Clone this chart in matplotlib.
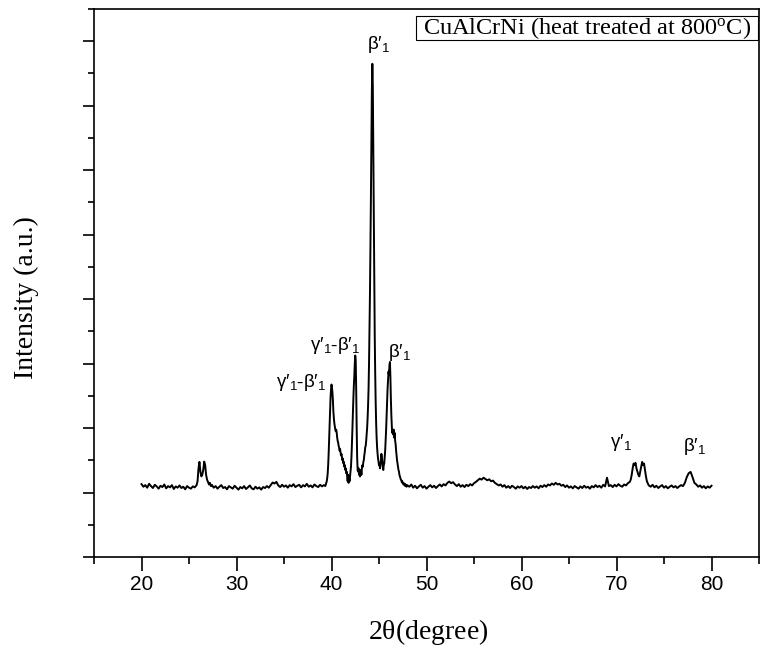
import numpy as np
import matplotlib
matplotlib.use("Agg")
import matplotlib.pyplot as plt
from matplotlib.patches import Rectangle
from matplotlib.ticker import MultipleLocator, NullFormatter

plt.rcParams['mathtext.fontset'] = 'custom'
plt.rcParams['mathtext.rm'] = 'Liberation Serif'

# ---------------- data ----------------
# segment A: 20.0 - 25.8, step 0.2
segA_start, segA_step = 20.0, 0.2
segA_int = [2260, 2180, 2230, 2150, 2270, 2200, 2140, 2240, 2190, 2120,
            2210, 2170, 2250, 2130, 2200, 2160, 2230, 2110, 2190, 2150,
            2220, 2140, 2180, 2100, 2200, 2150, 2120, 2190, 2160, 2230]
# segment B: 25.9 - 27.3, step 0.1 (doublet near 26-27 deg)
segB_start, segB_step = 25.9, 0.1
segB_int = [2350, 2750, 2950, 2650, 2500, 2550, 2700, 2960, 2850, 2550,
            2400, 2330, 2250, 2300, 2200]
# segment C: 27.4 - 39.2, step 0.2
segC_start, segC_step = 27.4, 0.2
segC_int = [2240, 2150, 2200, 2120, 2180, 2230, 2140, 2170, 2100, 2200,
            2160, 2120, 2210, 2150, 2090, 2170, 2130, 2200, 2110, 2160,
            2220, 2130, 2100, 2180, 2120, 2160, 2090, 2170, 2140, 2200,
            2150, 2230, 2310, 2280, 2330, 2220, 2170, 2240, 2180, 2220,
            2150, 2230, 2190, 2260, 2170, 2210, 2240, 2160, 2230, 2190,
            2270, 2180, 2220, 2160, 2250, 2200, 2170, 2240, 2190, 2230]
# segment D: 39.35 - 48.1, step 0.05 (main peak group)
segD_start, segD_step = 39.35, 0.05
segD_int = [2200,
            2250, 2300, 2350, 2450, 2600, 2850, 3200, 3650, 4150, 4600,
            4950, 5200, 5350, 5250, 5100, 4850, 4500, 4300, 4150, 4050,
            3950, 3900, 3950, 3850, 3700, 3600, 3550, 3450, 3400, 3300,
            3350, 3250, 3150, 3200, 3100, 3000, 3050, 2900, 2950, 2800,
            2850, 2700, 2750, 2600, 2650, 2500, 2350, 2550, 2300, 2450,
            2350, 2500, 2650, 2800, 3100, 3500, 4000, 4500, 4900, 5300,
            5600, 6000, 6250, 6100, 5200, 4000, 3100, 2700, 2650, 2750,
            2550, 2650, 2500, 2600, 2700, 2550, 2750, 2850, 2800, 2950,
            3000, 3150, 3250, 3400, 3450, 3600, 3800, 4000, 4300, 4700,
            5200, 6000, 7000, 8200, 9600, 11200, 12900, 14500, 15300, 14600,
            12600, 10300, 8400, 6900, 5700, 4800, 4150, 3700, 3400, 3200,
            3050, 2950, 2850, 2900, 2750, 2850, 3000, 3200, 3100, 2950,
            2800, 2700, 2850, 2900, 3100, 3300, 3600, 3950, 4400, 4850,
            5200, 5500, 5750, 5650, 5950, 6050, 5600, 4900, 4400, 4050,
            3850, 3950, 3800, 3950, 3700, 3850, 3600, 3500, 3300, 3150,
            3000, 2900, 2800, 2700, 2650, 2550, 2500, 2450, 2400, 2380,
            2320, 2350, 2280, 2300, 2250, 2280, 2220, 2260, 2200, 2240,
            2180, 2230]
# segment E: 48.2 - 71.4, step 0.2
segE_start, segE_step = 48.2, 0.2
segE_int = [2180, 2250, 2150, 2210, 2130, 2190, 2240, 2150, 2200, 2120,
            2180, 2230, 2160, 2210, 2140, 2200, 2250, 2190, 2260, 2220,
            2300, 2340, 2290, 2320, 2250, 2200, 2260, 2180, 2230, 2170,
            2240, 2200, 2260, 2220, 2290, 2330, 2380, 2430, 2400, 2460,
            2420, 2380, 2410, 2350, 2370, 2300, 2260, 2220, 2250, 2180,
            2230, 2150, 2200, 2140, 2210, 2170, 2120, 2190, 2150, 2200,
            2130, 2180, 2110, 2170, 2140, 2200, 2150, 2190, 2130, 2210,
            2170, 2230, 2180, 2250, 2220, 2280, 2240, 2300, 2250, 2270,
            2210, 2240, 2170, 2220, 2150, 2190, 2130, 2200, 2160, 2120,
            2190, 2140, 2210, 2150, 2180, 2120, 2200, 2160, 2230, 2170,
            2210, 2150, 2240, 2190, 2460, 2200, 2230, 2170, 2240, 2190,
            2260, 2210, 2180, 2250, 2220, 2290, 2330]
# segment F: 71.5 - 73.4, step 0.1 (gamma' doublet)
segF_start, segF_step = 71.5, 0.1
segF_int = [2400, 2550, 2750, 2900, 2850, 2920, 2750, 2650, 2550, 2500,
            2650, 2800, 2950, 2850, 2900, 2700, 2500, 2350, 2280, 2220]
# segment G: 73.6 - 80.0, step 0.2
segG_start, segG_step = 73.6, 0.2
segG_int = [2180, 2240, 2160, 2210, 2140, 2190, 2230, 2150, 2200, 2130,
            2180, 2220, 2160, 2200, 2140, 2190, 2230, 2200, 2300, 2480,
            2600, 2640, 2480, 2300, 2250, 2180, 2220, 2150, 2200, 2130,
            2190, 2150, 2210]

segments = [(segA_start, segA_step, segA_int), (segB_start, segB_step, segB_int),
            (segC_start, segC_step, segC_int), (segD_start, segD_step, segD_int),
            (segE_start, segE_step, segE_int), (segF_start, segF_step, segF_int),
            (segG_start, segG_step, segG_int)]

# peak labels: (text, 2theta, intensity)
peak_labels = [
    (r"$\mathregular{β′_1}$", 45.0, 15900),
    (r"$\mathregular{γ′_1\text{-}β′_1}$", 36.8, 5400),
    (r"$\mathregular{γ′_1\text{-}β′_1}$", 40.4, 6550),
    (r"$\mathregular{β′_1}$", 47.2, 6350),
    (r"$\mathregular{γ′_1}$", 70.5, 3560),
    (r"$\mathregular{β′_1}$", 78.2, 3420),
]
legend_text = r"CuAlCrNi (heat treated at 800$\mathregular{^o}$C)"
x_ticks = [20, 30, 40, 50, 60, 70, 80]

# ---------------- build ----------------
xs, ys = [], []
for start, step, vals in segments:
    for i, v in enumerate(vals):
        xs.append(start + step * i)
        ys.append(v)
xs = np.array(xs)
ys = np.array(ys)

W, H = 762, 660
fig = plt.figure(figsize=(W / 100, H / 100), dpi=100)
ax = fig.add_axes([94 / W, 1 - 557 / H, (759 - 94) / W, (557 - 9) / H])

ax.plot(xs, ys, color='black', lw=1.4)

ax.set_xlim(15, 85)
ax.set_ylim(0, 17000)
ax.set_xticks(x_ticks)
ax.xaxis.set_minor_locator(MultipleLocator(5))
ax.yaxis.set_major_locator(MultipleLocator(2000))
ax.yaxis.set_minor_locator(MultipleLocator(1000))
ax.yaxis.set_major_formatter(NullFormatter())
for lab in ax.get_xticklabels():
    lab.set_fontfamily('Liberation Sans')
    lab.set_fontsize(15)

ax.tick_params(axis='x', which='major', direction='out', length=10, width=1.2, pad=3)
ax.tick_params(axis='x', which='minor', direction='out', length=5, width=1.2)
ax.tick_params(axis='y', which='major', direction='out', length=8, width=1.2)
ax.tick_params(axis='y', which='minor', direction='out', length=4, width=1.2)
for s in ax.spines.values():
    s.set_linewidth(1.2)

fig.text(428 / W, 1 - 632 / H, r"2$\mathregular{\theta}$(degree)", family='Liberation Serif',
         fontsize=20, ha='center', va='center')
fig.text(26 / W, 1 - 298 / H, "Intensity (a.u.)", family='Liberation Serif',
         fontsize=20, ha='center', va='center', rotation=90)

for txt, xv, yv in peak_labels:
    ax.text(xv, yv, txt, family='Liberation Sans', fontsize=13.5, ha='center', va='center')

# legend box
x0 = (416 - 94) / 665
x1 = (758 - 94) / 665
y0 = (557 - 40) / 548
y1 = (557 - 16) / 548
ax.add_patch(Rectangle((x0, y0), x1 - x0, y1 - y0, transform=ax.transAxes,
                       fill=False, ec='black', lw=0.8))
ax.text((x0 + x1) / 2, (y0 + y1) / 2, legend_text, transform=ax.transAxes,
        family='Liberation Serif', fontsize=17.5, ha='center', va='center')

fig.savefig('out.png', dpi=100)
